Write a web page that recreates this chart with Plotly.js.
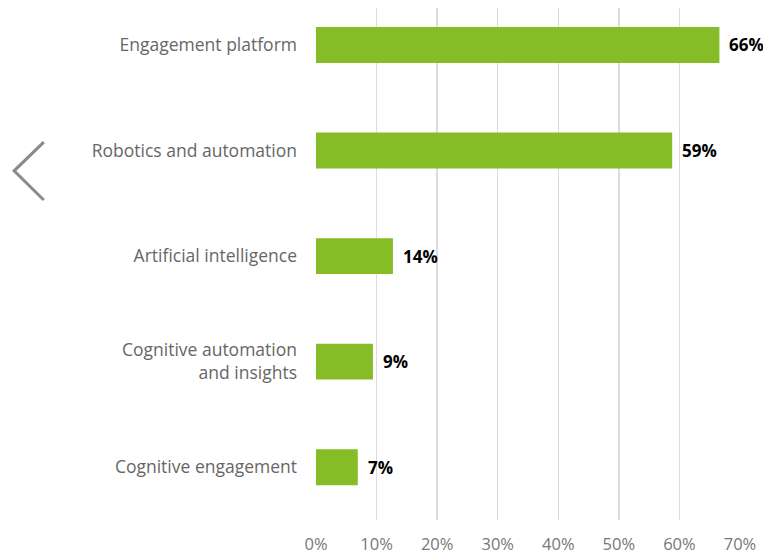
<!DOCTYPE html>
<html>
<head>
<meta charset="utf-8">
<script src="https://cdn.plot.ly/plotly-3.0.1.min.js"></script>
<style>
  html, body { margin: 0; padding: 0; background: #fff; }
  #chart { width: 763px; height: 553px; }
</style>
</head>
<body>
<div id="chart"></div>
<script>
// Data
const categories = [
    'Engagement platform',
    'Robotics and automation',
    'Artificial intelligence',
    'Cognitive automation<br>and insights',
    'Cognitive engagement'
];
const shares = [66.6, 58.8, 12.7, 9.4, 6.9];      // bar lengths, %
const shareLabels = ['66%', '59%', '14%', '9%', '7%'];
const tickValues = [0, 10, 20, 30, 40, 50, 60, 70];
const tickLabels = ['0%', '10%', '20%', '30%', '40%', '50%', '60%', '70%'];

const bars = {
    type: 'bar',
    orientation: 'h',
    x: shares,
    y: categories,
    marker: { color: '#86bc25' },
    width: 0.34,
    hoverinfo: 'none'
};

// value labels to the right of each bar
const valueNotes = shares.map((v, i) => ({
    x: v,
    y: categories[i],
    text: shareLabels[i],
    showarrow: false,
    xanchor: 'left',
    xshift: 8,
    font: { family: 'Open Sans', size: 17, color: '#000', weight: 'bold' }
}));

const layout = {
    width: 763,
    height: 553,
    margin: { l: 316, r: 23, t: 8, b: 33 },
    paper_bgcolor: '#fff',
    plot_bgcolor: '#fff',
    showlegend: false,
    font: { family: 'Open Sans', size: 16, color: '#666' },
    xaxis: {
        range: [0, 70],
        tickvals: tickValues,
        ticktext: tickLabels,
        tickfont: { size: 16.5, color: '#777' },
        showgrid: true,
        gridcolor: '#dcdcdc',
        gridwidth: 1.5,
        zeroline: false,
        showline: false,
        ticks: '',
        ticklabelstandoff: 12,
        fixedrange: true
    },
    yaxis: {
        range: [4.5, -0.35],
        tickfont: { size: 17.5, color: '#666' },
        showgrid: false,
        zeroline: false,
        showline: false,
        ticks: '',
        ticklabelstandoff: 18,
        fixedrange: true
    },
    annotations: valueNotes,
    shapes: [{
        // carousel arrow at the left edge
        type: 'path',
        xref: 'paper',
        yref: 'paper',
        path: 'M -0.642 0.738 L -0.712 0.682 L -0.642 0.625',
        line: { color: '#8a8a8a', width: 3 }
    }]
};

Plotly.newPlot('chart', [bars], layout, { displayModeBar: false, staticPlot: true });
</script>
</body>
</html>
